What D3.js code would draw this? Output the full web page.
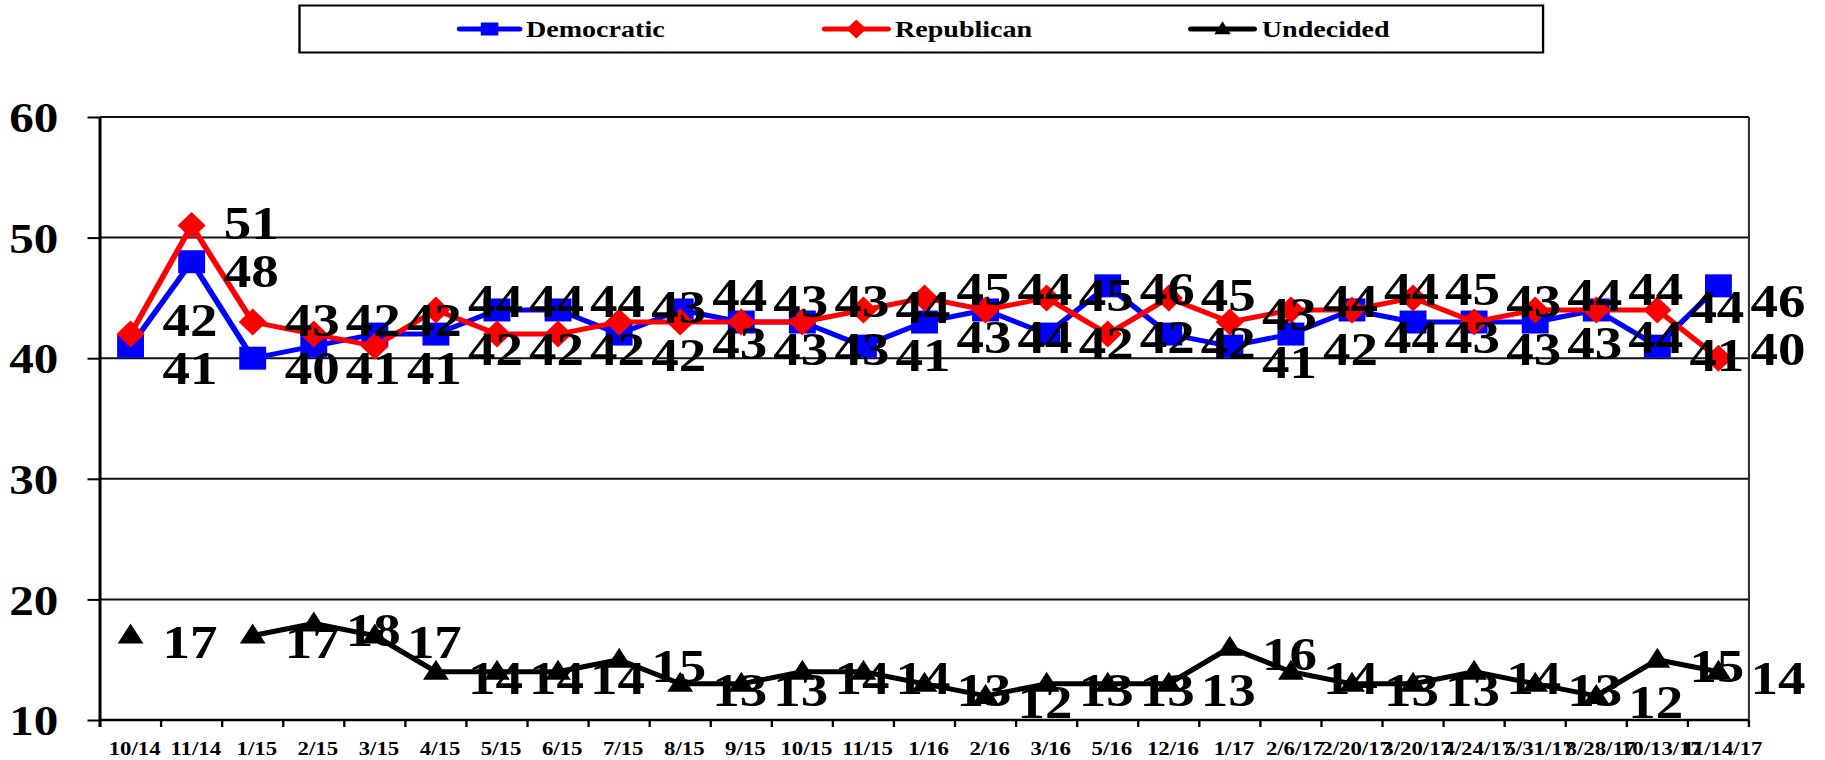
<!DOCTYPE html>
<html><head><meta charset="utf-8">
<script src="https://cdn.jsdelivr.net/npm/d3@7"></script>
<style>html,body{margin:0;padding:0;background:#fff;} svg{display:block;}</style>
</head><body>
<svg id="chart" width="1825" height="760" viewBox="0 0 1560 760" preserveAspectRatio="none"></svg>
<script>
const categories = ["10/14","11/14","1/15","2/15","3/15","4/15","5/15","6/15","7/15","8/15","9/15","10/15","11/15","1/16","2/16","3/16","5/16","12/16","1/17","2/6/17","2/20/17","3/20/17","4/24/17","5/31/17","8/28/17","10/13/17","11/14/17"];
const democratic = [41,48,40,41,42,42,44,44,42,44,43,43,41,43,44,42,46,42,41,42,44,43,43,43,44,41,46];
const republican = [42,51,43,42,41,44,42,42,43,43,43,43,44,45,44,45,42,45,43,44,44,45,43,44,44,44,40];
const undecided = [17,null,17,18,17,14,14,14,15,13,13,14,14,13,12,13,13,13,16,14,13,13,14,13,12,15,14];
const yTicks = [10,20,30,40,50,60];
const seriesNames = ["Democratic","Republican","Undecided"];

(function () {
const svg = d3.select("#chart");
const pLeft = 85.5, pRight = 1495, pTop = 117, pBottom = 720;
const font = "'Liberation Serif','Times New Roman',serif";
const x = d3.scaleBand().domain(categories).range([pLeft, pRight]);
const y = d3.scaleLinear().domain([10, 60]).range([pBottom, pTop]);
const cx = c => x(c) + x.bandwidth() / 2;

// gridlines
svg.append("g").selectAll("line").data(yTicks.filter(t => t > 10)).join("line")
  .attr("x1", pLeft).attr("x2", pRight)
  .attr("y1", d => y(d)).attr("y2", d => y(d))
  .attr("stroke", "#111").attr("stroke-width", 2);

// right frame
svg.append("line").attr("x1", pRight).attr("x2", pRight).attr("y1", pTop).attr("y2", pBottom + 7)
  .attr("stroke", "#333").attr("stroke-width", 1.8);

// y axis
const yAxis = svg.append("g").attr("transform", `translate(${pLeft},0)`)
  .call(d3.axisLeft(y).tickValues(yTicks).tickSize(10.7).tickPadding(25).tickFormat(d3.format("d")));
yAxis.select(".domain").attr("stroke", "#000").attr("stroke-width", 2.6)
  .attr("d", `M0,${pTop}V${pBottom + 7}`);
yAxis.selectAll(".tick line").attr("stroke", "#000").attr("stroke-width", 2);
yAxis.selectAll("text").attr("font-family", font).attr("font-weight", "bold")
  .attr("font-size", 42).attr("fill", "#000").attr("dy", "0.35em");

// x axis
const xAxis = svg.append("g").attr("transform", `translate(0,${pBottom})`)
  .call(d3.axisBottom(x).tickSize(0).tickPadding(0));
xAxis.select(".domain").attr("stroke", "#000").attr("stroke-width", 2.4)
  .attr("d", `M${pLeft},0H${pRight}`);
xAxis.selectAll("text").attr("font-family", font).attr("font-weight", "bold")
  .attr("font-size", 19.5).attr("fill", "#000").attr("y", 35).attr("dy", 0).attr("dx", 3.5);
// boundary ticks
svg.append("g").selectAll("line").data(categories.map(c => x(c)).concat([pRight])).join("line")
  .attr("x1", d => d).attr("x2", d => d).attr("y1", pBottom).attr("y2", pBottom + 7)
  .attr("stroke", "#000").attr("stroke-width", 2);

// series
const series = [
  { name: seriesNames[0], values: democratic, color: "#0000ff", marker: "square" },
  { name: seriesNames[1], values: republican, color: "#ff0000", marker: "diamond" },
  { name: seriesNames[2], values: undecided, color: "#000000", marker: "triangle" }
];

function markerPath(type, s) {
  if (type === "square") return `M${-s.w/2},${-s.h/2}h${s.w}v${s.h}h${-s.w}Z`;
  if (type === "diamond") return `M0,${-s.h/2}L${s.w/2},0L0,${s.h/2}L${-s.w/2},0Z`;
  return `M0,${-s.h*0.6}L${s.w/2},${s.h*0.4}L${-s.w/2},${s.h*0.4}Z`;
}
const markerSize = { square: { w: 23, h: 23 }, diamond: { w: 24, h: 27 }, triangle: { w: 22, h: 20 } };
const legendMarkerSize = { square: { w: 15, h: 13 }, diamond: { w: 17, h: 19 }, triangle: { w: 14, h: 13 } };

const line = d3.line().defined(d => d.v != null).x(d => cx(d.c)).y(d => y(d.v));

series.forEach(s => {
  const pts = categories.map((c, i) => ({ c, v: s.values[i] }));
  svg.append("path").datum(pts).attr("d", line)
    .attr("fill", "none").attr("stroke", s.color).attr("stroke-width", 5)
    .attr("stroke-linejoin", "round");
  svg.append("g").selectAll("path").data(pts.filter(d => d.v != null)).join("path")
    .attr("transform", d => `translate(${cx(d.c)},${y(d.v)})`)
    .attr("d", markerPath(s.marker, markerSize[s.marker]))
    .attr("fill", s.color);
});

// data labels: Democratic / Republican pair spread above and below their mean level
const pairLabels = [];
categories.forEach((c, i) => {
  const d = democratic[i], r = republican[i];
  const mid = (y(d) + y(r)) / 2;
  const demUp = d > r || d === r;
  pairLabels.push({ c, v: d, ly: mid + (demUp ? -24 : 24) + 3 });
  pairLabels.push({ c, v: r, ly: mid + (demUp ? 24 : -24) + 3 });
});
svg.append("g").selectAll("text").data(pairLabels).join("text")
  .attr("x", d => cx(d.c) + 27.4).attr("y", d => d.ly)
  .attr("dy", "0.35em")
  .attr("font-family", font).attr("font-weight", "bold").attr("font-size", 47)
  .attr("fill", "#000").text(d => d.v);

// Undecided labels to the right of each point
const undPts = categories.map((c, i) => ({ c, v: undecided[i] })).filter(d => d.v != null);
svg.append("g").selectAll("text").data(undPts).join("text")
  .attr("x", d => cx(d.c) + 27.4).attr("y", d => y(d.v) + 6)
  .attr("dy", "0.35em")
  .attr("font-family", font).attr("font-weight", "bold").attr("font-size", 47)
  .attr("fill", "#000").text(d => d.v);

// legend
const lg = svg.append("g");
lg.append("rect").attr("x", 256).attr("y", 5.5).attr("width", 1063).attr("height", 47)
  .attr("fill", "#fff").attr("stroke", "#000").attr("stroke-width", 2);
const legendX = [[393, 444, 449.6], [705, 759, 765], [1018, 1072, 1078.6]];
series.forEach((s, i) => {
  const [x1, x2, tx] = legendX[i];
  lg.append("line").attr("x1", x1).attr("x2", x2).attr("y1", 29).attr("y2", 29)
    .attr("stroke", s.color).attr("stroke-width", 5).attr("stroke-linecap", "round");
  lg.append("path").attr("transform", `translate(${(x1 + x2) / 2},29)`)
    .attr("d", markerPath(s.marker, legendMarkerSize[s.marker])).attr("fill", s.color);
  lg.append("text").attr("x", tx).attr("y", 37)
    .attr("font-family", font).attr("font-weight", "bold").attr("font-size", 24)
    .attr("fill", "#000").text(s.name);
});
})();
</script>
</body></html>
